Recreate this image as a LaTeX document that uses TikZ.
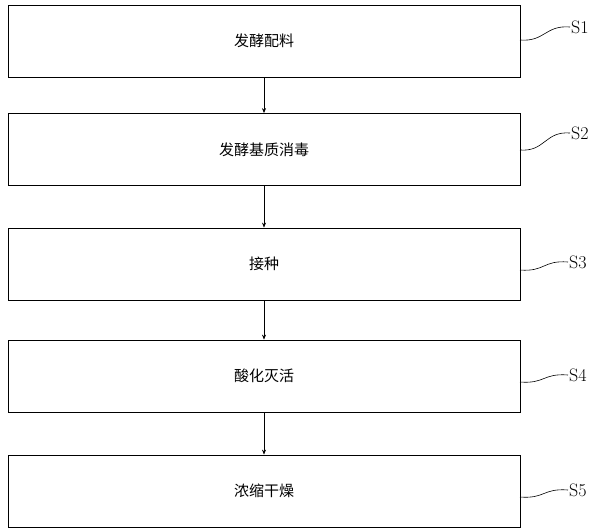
\documentclass[tikz,border=0pt]{standalone}
\usepackage{fontspec}
\usetikzlibrary{arrows.meta,calc}
\newfontfamily\cjk{Noto Sans CJK SC}
\begin{document}
\begin{tikzpicture}[x=1pt,y=-1pt,
  stepbox/.style={draw,line width=0.8pt,minimum width=512pt,minimum height=72pt,font=\cjk\fontsize{15}{18}\selectfont,inner sep=0pt},
  arr/.style={-{Stealth[length=5pt,width=4pt]},line width=0.6pt},
  lbl/.style={font=\fontsize{18}{20}\selectfont,anchor=west,inner sep=1pt},
  wave/.style={line width=0.6pt}]
\useasboundingbox (0,0) rectangle (600,530);
\node[stepbox] (b1) at (264,41) {发酵配料};
\node[stepbox] (b2) at (264,149.5) {发酵基质消毒};
\node[stepbox] (b3) at (264,264) {接种};
\node[stepbox] (b4) at (264,376) {酸化灭活};
\node[stepbox] (b5) at (264,491) {浓缩干燥};
\foreach \a/\b in {b1/b2,b2/b3,b3/b4,b4/b5} \draw[arr] (\a.south) -- (\b.north);
\node[lbl] (s1) at (570,27) {S1};
\node[lbl] (s2) at (570,133) {S2};
\node[lbl] (s3) at (568,262) {S3};
\node[lbl] (s4) at (568,375) {S4};
\node[lbl] (s5) at (568,490) {S5};
\coordinate (e1) at (520,40); \coordinate (e2) at (520,150);
\coordinate (e3) at (520,270); \coordinate (e4) at (520,382);
\coordinate (e5) at (520,497);
\foreach \i in {1,...,5}
  \draw[wave] (e\i) .. controls ($(e\i)+(25,2)$) and ($(s\i.west)+(-25,-2)$) .. (s\i.west);
\end{tikzpicture}
\end{document}
